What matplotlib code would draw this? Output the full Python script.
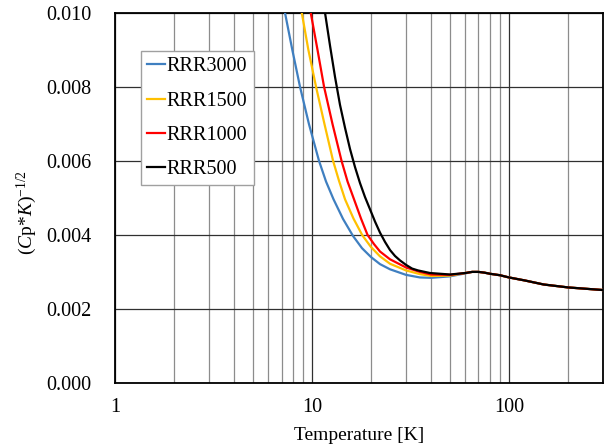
import matplotlib
matplotlib.use('Agg')
import matplotlib.pyplot as plt
from matplotlib.ticker import FixedLocator, FixedFormatter, NullFormatter, FormatStrFormatter

plt.rcParams['font.family'] = ['Liberation Serif', 'DejaVu Serif']
plt.rcParams['mathtext.fontset'] = 'custom'
plt.rcParams['mathtext.rm'] = 'Liberation Serif'
plt.rcParams['mathtext.it'] = 'Liberation Serif:italic'

# shared high-temperature tail (all RRR curves merge here)
tail_t = [70, 75, 80, 90, 100, 120, 150, 200, 300]
tail_v = [0.00300, 0.00298, 0.00295, 0.00291, 0.00285, 0.00277, 0.00266,
          0.00258, 0.00251]

t_3000 = [7.29, 7.94, 8.69, 9.65, 10.85, 11.78, 12.86, 14.37, 16.15, 17.94,
          19.93, 22.14, 24.89, 30.0, 35.3, 40.2, 50.2, 60.0, 65.0] + tail_t
v_3000 = [0.0100, 0.0090, 0.0080, 0.00699, 0.0060, 0.00544, 0.00496, 0.00443,
          0.00397, 0.00364, 0.00340, 0.00321, 0.00307, 0.00292, 0.00285,
          0.00284, 0.00288, 0.00296, 0.00300] + tail_v

t_1500 = [8.87, 9.58, 10.48, 11.57, 12.79, 13.71, 14.71, 16.24, 18.0, 19.93,
          22.14, 24.89, 30.0, 35.3, 40.2, 50.2, 60.0, 65.0] + tail_t
v_1500 = [0.0100, 0.0090, 0.0080, 0.00699, 0.0060, 0.00546, 0.00496, 0.00444,
          0.00399, 0.00367, 0.00342, 0.00322, 0.00304, 0.00294, 0.00289,
          0.00290, 0.00297, 0.00300] + tail_v

t_1000 = [9.85, 10.66, 11.51, 12.71, 14.12, 15.15, 16.34, 17.73, 19.13, 20.64,
          22.14, 24.89, 30.0, 35.3, 40.2, 50.2, 60.0, 65.0] + tail_t
v_1000 = [0.0100, 0.0090, 0.0080, 0.00699, 0.0060, 0.00544, 0.00496, 0.00444,
          0.00400, 0.00375, 0.00355, 0.00334, 0.00312, 0.00300, 0.00293,
          0.00292, 0.00297, 0.00300] + tail_v

t_500 = [11.64, 12.35, 13.09, 13.87, 14.71, 15.59, 16.53, 17.52, 18.58, 19.70,
         20.88, 22.14, 23.47, 24.89, 26.38, 27.97, 30.0, 32.2, 34.5, 39.7,
         50.2, 60.0, 65.0] + tail_t
v_500 = [0.0100, 0.00910, 0.00826, 0.00751, 0.00689, 0.00632, 0.00583,
         0.00540, 0.00502, 0.00469, 0.00436, 0.00406, 0.00381, 0.00359,
         0.00343, 0.00331, 0.00319, 0.00309, 0.00304, 0.00297, 0.00293,
         0.00297, 0.00300] + tail_v

series = [
    ('RRR3000', t_3000, v_3000, '#3f7fc0'),
    ('RRR1500', t_1500, v_1500, '#ffc000'),
    ('RRR1000', t_1000, v_1000, '#ff0000'),
    ('RRR500', t_500, v_500, '#000000'),
]

fig = plt.figure(figsize=(6.07, 4.48), dpi=100)
ax = fig.add_axes([0.1895, 0.1451, 0.8039, 0.8266])

for name, t, v, c in series:
    ax.plot(t, v, color=c, linewidth=1.6, label=name, zorder=3,
            solid_joinstyle='round')

ax.set_xscale('log')
ax.set_xlim(1, 300)
ax.set_ylim(0, 0.010)
ax.set_yticks([0.000, 0.002, 0.004, 0.006, 0.008, 0.010])
ax.yaxis.set_major_formatter(FormatStrFormatter('%.3f'))
ax.xaxis.set_major_locator(FixedLocator([1, 10, 100]))
ax.xaxis.set_major_formatter(FixedFormatter(['1', '10', '100']))
minors = [m * d for d in (1, 10, 100) for m in range(2, 10) if m * d <= 300]
ax.xaxis.set_minor_locator(FixedLocator(minors))
ax.xaxis.set_minor_formatter(NullFormatter())

ax.grid(True, which='major', axis='both', color='#303030', linewidth=0.9)
ax.grid(True, which='minor', axis='x', color='#8c8c8c', linewidth=0.9)
ax.set_axisbelow(True)

ax.tick_params(axis='both', which='both', length=0, labelsize=14.5)
ax.tick_params(axis='y', pad=17)
ax.tick_params(axis='x', pad=11)
for s in ax.spines.values():
    s.set_linewidth(1.3)
    s.set_color('black')

ax.set_xlabel('Temperature [K]', fontsize=14)
ax.xaxis.set_label_coords(0.5, -0.12)
ax.set_ylabel(r'$(\mathit{C}\mathrm{p}{*}\mathit{K})^{-1/2}$', fontsize=14)
ax.yaxis.set_label_coords(-0.155, 0.46)

leg = ax.legend(loc='upper left', bbox_to_anchor=(0.053, 0.897), fontsize=14.5,
                handlelength=0.9, handletextpad=0.05, labelspacing=0.75,
                borderpad=0.32, borderaxespad=0, fancybox=False, framealpha=1,
                edgecolor='#a0a0a0')
leg.get_frame().set_linewidth(1.0)

fig.savefig('out.png', dpi=100)
